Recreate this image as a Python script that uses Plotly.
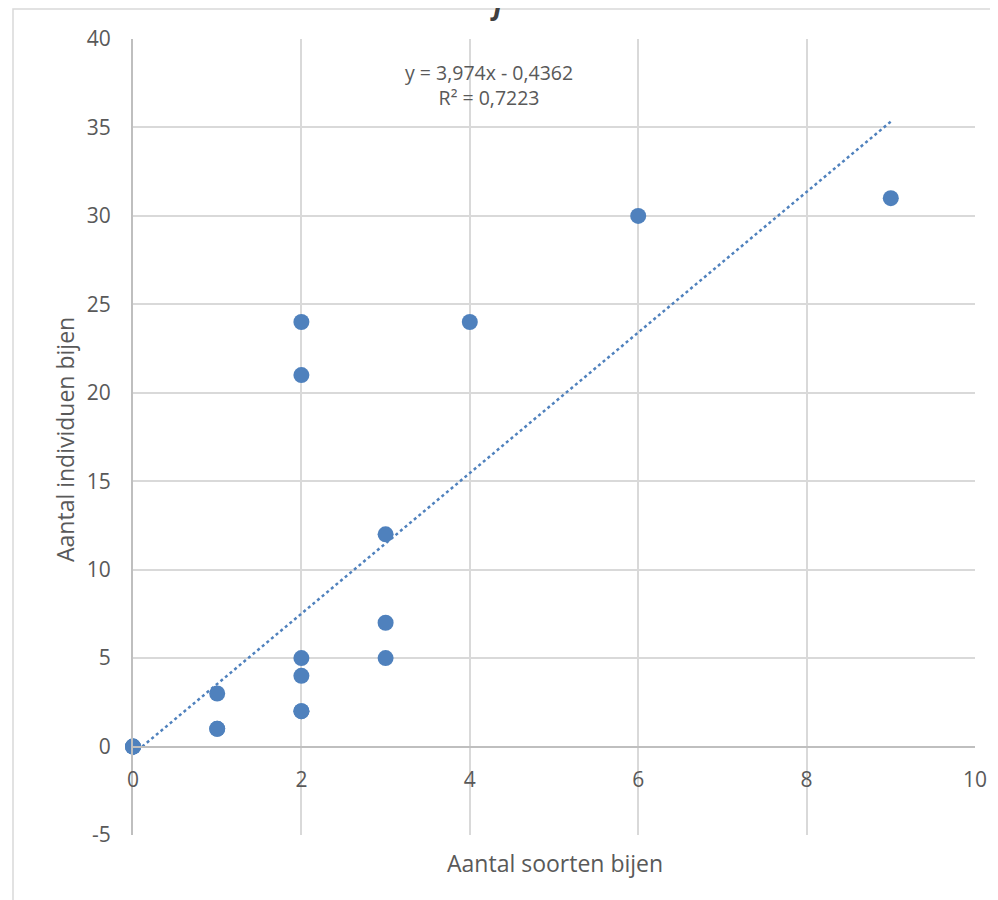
import plotly.graph_objects as go

# Data
soorten = [0, 0, 0, 1, 1, 1, 2, 2, 2, 2, 2, 2, 3, 3, 3, 4, 6, 9]
individuen = [0, 0, 0, 3, 1, 1, 24, 21, 5, 4, 2, 2, 12, 7, 5, 24, 30, 31]

# Trendline coefficients as shown in the chart label
slope = 3.974
intercept = -0.4362
r2 = 0.7223
trend_x = [0, 9]
trend_y = [slope * x + intercept for x in trend_x]

x_ticks = [0, 2, 4, 6, 8, 10]
y_ticks = [-5, 0, 5, 10, 15, 20, 25, 30, 35, 40]
y_tick_text = ["-5", "0", "5", "10", "15", "20", "25", "30", "35", "40"]

blue = "#4F81BD"
grid = "#D9D9D9"
axis_c = "#BFBFBF"
txt = "#595959"
font_family = "'Open Sans', 'Liberation Sans', sans-serif"

fig = go.Figure()
fig.add_trace(go.Scatter(
    x=trend_x, y=trend_y, mode="lines",
    line=dict(color=blue, width=2.5, dash="dot"),
    showlegend=False, hoverinfo="skip", cliponaxis=False))
fig.add_trace(go.Scatter(
    x=soorten, y=individuen, mode="markers",
    marker=dict(color=blue, size=16),
    showlegend=False, cliponaxis=False))

fmt = lambda v: f"{v:.4f}".replace(".", ",")
eq = f"y = {str(slope).replace('.', ',')}x - {fmt(-intercept)}<br>R² = {fmt(r2)}"

# page has an 8px body margin, so offsets are reduced by 8
L, T = 125, 31
PW, PH = 842, 796

fig.update_layout(
    width=998, height=900,
    margin=dict(l=L, r=998 - L - PW, t=T, b=900 - T - PH),
    paper_bgcolor="white", plot_bgcolor="white",
    font=dict(family=font_family, size=21, color=txt),
    xaxis=dict(range=[0, 10], tickvals=x_ticks, showgrid=True, gridcolor=grid, gridwidth=1.5,
               zeroline=False, showline=True, linecolor=axis_c, linewidth=2,
               anchor="free", position=5 / 45, ticks="", ticklabelstandoff=14,
               tickfont=dict(size=21, color=txt)),
    yaxis=dict(range=[-5, 40], tickvals=y_ticks, ticktext=y_tick_text, showgrid=True,
               gridcolor=grid, gridwidth=1.5,
               zeroline=True, zerolinecolor=axis_c, zerolinewidth=2,
               showline=True, linecolor=axis_c, linewidth=2, ticks="",
               ticklabelstandoff=16, tickfont=dict(size=21, color=txt)),
    annotations=[
        dict(text=eq, x=4.23, y=39.0, xref="x", yref="y", showarrow=False,
             xanchor="center", yanchor="top", font=dict(size=19.5, color=txt), align="center"),
        dict(text="Aantal soorten bijen", x=(555 - 133) / PW, y=-0.012, xref="paper", yref="paper",
             showarrow=False, xanchor="center", yanchor="top", font=dict(size=23, color=txt)),
        dict(text="Aantal individuen bijen", x=(65 - 133) / PW, y=(835 - 440) / PH, xref="paper", yref="paper",
             showarrow=False, textangle=-90, xanchor="center", yanchor="middle",
             font=dict(size=23, color=txt)),
        dict(text="<b><i>j</i></b>", x=(496 - 133) / PW, y=(835 - 24) / PH, xref="paper", yref="paper",
             showarrow=False, xanchor="center", yanchor="bottom", font=dict(size=28, color="#404040")),
    ],
    shapes=[
        dict(type="rect", xref="paper", yref="paper",
             x0=(13 - 133) / PW, x1=1.2, y0=-0.3, y1=(835 - 9) / PH,
             line=dict(color="#D9D9D9", width=1.5), fillcolor="rgba(0,0,0,0)", layer="below"),
    ],
)

fig.write_html("out.html")
